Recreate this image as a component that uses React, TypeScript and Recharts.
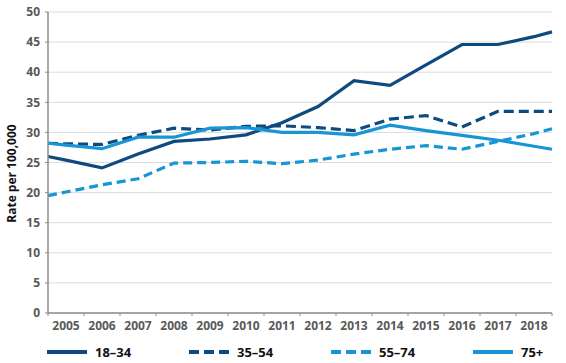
import { LineChart, Line, XAxis, YAxis, CartesianGrid, Legend } from 'recharts';

const years = [2005, 2006, 2007, 2008, 2009, 2010, 2011, 2012, 2013, 2014, 2015, 2016, 2017, 2018];
const yTicks = [0, 5, 10, 15, 20, 25, 30, 35, 40, 45, 50];

// lines run to the plot edges: first/last entry is the value at the left/right edge
const xPositions = [years[0] - 0.5, ...years, years[years.length - 1] + 0.5];
const age18to34 = [26.0, 25.4, 24.1, 26.4, 28.5, 28.9, 29.6, 31.6, 34.3, 38.6, 37.8, 41.2, 44.6, 44.6, 45.9, 46.7];
const age35to54 = [28.2, 28.1, 28.0, 29.5, 30.7, 30.4, 31.0, 31.1, 30.8, 30.3, 32.2, 32.8, 30.9, 33.5, 33.5, 33.5];
const age55to74 = [19.5, 20.1, 21.3, 22.3, 24.9, 25.0, 25.2, 24.8, 25.4, 26.4, 27.2, 27.8, 27.2, 28.5, 29.8, 30.6];
const age75plus = [28.2, 27.9, 27.3, 29.2, 29.2, 30.7, 30.8, 30.0, 30.0, 29.6, 31.2, 30.3, 29.5, 28.7, 27.7, 27.2];

const NAVY = '#0d4a80';
const LIGHT = '#1895d5';

const series = [
  { key: 'a', name: '18–34', values: age18to34, color: NAVY, dash: undefined },
  { key: 'b', name: '35–54', values: age35to54, color: NAVY, dash: '10 5' },
  { key: 'c', name: '55–74', values: age55to74, color: LIGHT, dash: '9 5' },
  { key: 'd', name: '75+', values: age75plus, color: LIGHT, dash: undefined },
];

const data = xPositions.map((x, i) => {
  const row: Record<string, number> = { x };
  series.forEach((s) => { row[s.key] = s.values[i]; });
  return row;
});

const WIDTH = 566;
const HEIGHT = 363;
const Y_AXIS_W = 48;
const MARGIN = { top: 12, right: 14, bottom: 0, left: 0 };
const HALF_BAND = (WIDTH - MARGIN.right - Y_AXIS_W) / years.length / 2;
const FONT = '"Open Sans", "Noto Sans", sans-serif';

const YearTick = (props: any) => {
  const { x, y, payload, index } = props;
  const last = index === years.length - 1;
  return (
    <g>
      <line x1={x - HALF_BAND} x2={x - HALF_BAND} y1={y} y2={y + 3} stroke="#8c8c8c" strokeWidth={1} />
      {last && <line x1={x + HALF_BAND} x2={x + HALF_BAND} y1={y} y2={y + 3} stroke="#8c8c8c" strokeWidth={1} />}
      <text x={x} y={y + 17} textAnchor="middle" fontSize={12} fontWeight={700} fill="#595959" fontFamily={FONT}>
        {payload.value}
      </text>
    </g>
  );
};

const YLabel = (props: any) => {
  const { viewBox } = props;
  const cy = viewBox.y + viewBox.height / 2 + 11;
  return (
    <text x={16} y={cy} transform={`rotate(-90, 16, ${cy})`} textAnchor="middle" fontSize={12} fontWeight={700} fill="#111" fontFamily={FONT}>
      Rate per 100,000
    </text>
  );
};

const LegendBox = () => (
  <div style={{ display: 'flex', height: 28, paddingLeft: 47, alignItems: 'center', paddingTop: 5, boxSizing: 'border-box', fontFamily: FONT }}>
    {series.map((s) => (
      <div key={s.key} style={{ width: 142, flexShrink: 0, display: 'flex', alignItems: 'center' }}>
        <svg width={40} height={6}>
          <line x1={0} x2={40} y1={3} y2={3} stroke={s.color} strokeWidth={4} strokeDasharray={s.dash ? '10 5' : undefined} />
        </svg>
        <span style={{ marginLeft: 8, fontSize: 13, fontWeight: 700, color: '#111' }}>{s.name}</span>
      </div>
    ))}
  </div>
);

const App = () => {
  return (
    <div style={{ position: 'absolute', left: 0, top: 0, background: '#fff' }}>
      <LineChart width={WIDTH} height={HEIGHT} data={data} margin={MARGIN}>
        <CartesianGrid vertical={false} stroke="#dcdcdc" strokeWidth={1} />
        <XAxis
          dataKey="x"
          type="number"
          domain={[xPositions[0], xPositions[xPositions.length - 1]]}
          ticks={years}
          interval={0}
          height={22}
          tickSize={0}
          tickMargin={0}
          tickLine={false}
          axisLine={{ stroke: '#8c8c8c', strokeWidth: 1.5 }}
          tick={<YearTick />}
        />
        <YAxis
          domain={[0, 50]}
          ticks={yTicks}
          interval={0}
          width={Y_AXIS_W}
          tickSize={3}
          tickMargin={5}
          tickLine={{ stroke: '#8c8c8c' }}
          axisLine={{ stroke: '#8c8c8c', strokeWidth: 1.5 }}
          tick={{ fontSize: 12, fontWeight: 700, fill: '#595959', fontFamily: FONT }}
          label={<YLabel />}
        />
        <Legend verticalAlign="bottom" content={<LegendBox />} wrapperStyle={{ left: 0, width: WIDTH, bottom: 0 }} />
        {series.map((s) => (
          <Line
            key={s.key}
            dataKey={s.key}
            name={s.name}
            stroke={s.color}
            strokeWidth={3.2}
            strokeDasharray={s.dash}
            dot={false}
            activeDot={false}
            isAnimationActive={false}
          />
        ))}
      </LineChart>
    </div>
  );
};

export default App;
